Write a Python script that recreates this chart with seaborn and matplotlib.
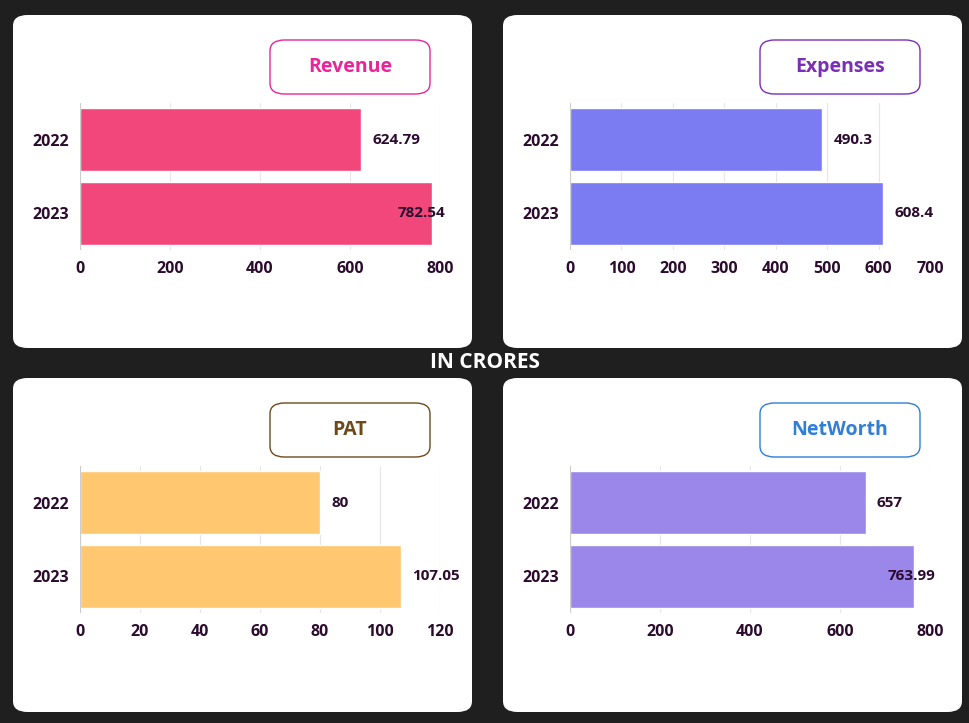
import matplotlib
matplotlib.use("Agg")
import matplotlib.pyplot as plt
import seaborn as sns
import pandas as pd
from matplotlib.patches import FancyBboxPatch

years = ["2022", "2023"]
revenue = [624.79, 782.54]
expenses = [490.3, 608.4]
pat = [80, 107.05]
networth = [657, 763.99]
value_labels = {
    "Revenue": ["624.79", "782.54"],
    "Expenses": ["490.3", "608.4"],
    "PAT": ["80", "107.05"],
    "NetWorth": ["657", "763.99"],
}

sns.set_theme(style="white")
plt.rcParams['font.family'] = ['Open Sans', 'DejaVu Sans']

W, H = 970, 723
fig = plt.figure(figsize=(9.7, 7.23), dpi=100)
fig.patch.set_facecolor("#1f1f1f")
TXT = "#2b0b2e"

def fx(x): return x / W
def fy(y): return 1 - y / H

panels = [
    ("Revenue", revenue, "#f2477a", "#e9259a", (13, 15, 472, 348), (80, 440, 103, 250), 800, 200),
    ("Expenses", expenses, "#7b7bf2", "#7b2fb5", (503, 15, 962, 348), (570, 930, 103, 250), 700, 100),
    ("PAT", pat, "#ffc870", "#6b4b1a", (13, 378, 472, 712), (80, 440, 466, 613), 120, 20),
    ("NetWorth", networth, "#9b87ea", "#2f7ed8", (503, 378, 962, 712), (570, 930, 466, 613), 800, 200),
]

for name, vals, bc, tc, (px0, py0, px1, py1), (ax0, ax1, ay0, ay1), xmax, step in panels:
    fig.patches.append(FancyBboxPatch((fx(px0), fy(py1)), fx(px1 - px0), (py1 - py0) / H,
                                      boxstyle="round,pad=0,rounding_size=0.015",
                                      transform=fig.transFigure, facecolor="white",
                                      edgecolor="none", zorder=0))
    bx0, bx1 = px0 + 257, px0 + 417
    by0, by1 = py0 + 25, py0 + 79
    fig.patches.append(FancyBboxPatch((fx(bx0), fy(by1)), fx(bx1 - bx0), (by1 - by0) / H,
                                      boxstyle="round,pad=0,rounding_size=0.015",
                                      transform=fig.transFigure, facecolor="white",
                                      edgecolor=tc, linewidth=1.0, zorder=1))
    fig.text(fx((bx0 + bx1) / 2), fy((by0 + by1) / 2), name, color=tc, fontsize=14,
             fontweight="bold", ha="center", va="center", zorder=2)

    ax = fig.add_axes([fx(ax0), fy(ay1), fx(ax1 - ax0), (ay1 - ay0) / H])
    ax.set_zorder(5)
    ax.set_facecolor("none")
    df = pd.DataFrame({"year": years, "value": vals})
    sns.barplot(data=df, x="value", y="year", orient="h", color=bc, width=0.86,
                saturation=1, ax=ax, zorder=3)
    ax.set_xlim(0, xmax)
    ax.set_xticks(range(0, xmax + 1, step))
    ax.grid(axis="x", color="#e6e6e6", linewidth=0.8, zorder=0)
    ax.set_axisbelow(True)
    for s in ax.spines.values():
        s.set_visible(False)
    ax.axvline(0, color="#cccccc", linewidth=0.8, zorder=4)
    ax.set_xlabel(""); ax.set_ylabel("")
    ax.tick_params(axis="both", length=0, labelsize=11.5, labelcolor=TXT, pad=8)
    for lab in ax.get_xticklabels() + ax.get_yticklabels():
        lab.set_fontweight("bold")
    for i, v in enumerate(vals):
        if v / xmax > 0.9:
            ax.annotate(value_labels[name][i], (xmax, i), xytext=(4, 0), textcoords="offset points",
                        ha="right", va="center", fontsize=11, fontweight="bold", color=TXT, zorder=5)
        else:
            ax.annotate(value_labels[name][i], (v, i), xytext=(8, 0), textcoords="offset points",
                        ha="left", va="center", fontsize=11, fontweight="bold", color=TXT, zorder=5)

fig.text(fx(485), fy(363), "IN CRORES", color="white", fontsize=15, fontweight="bold",
         ha="center", va="center")

fig.savefig("out.png", dpi=100, facecolor=fig.get_facecolor())
